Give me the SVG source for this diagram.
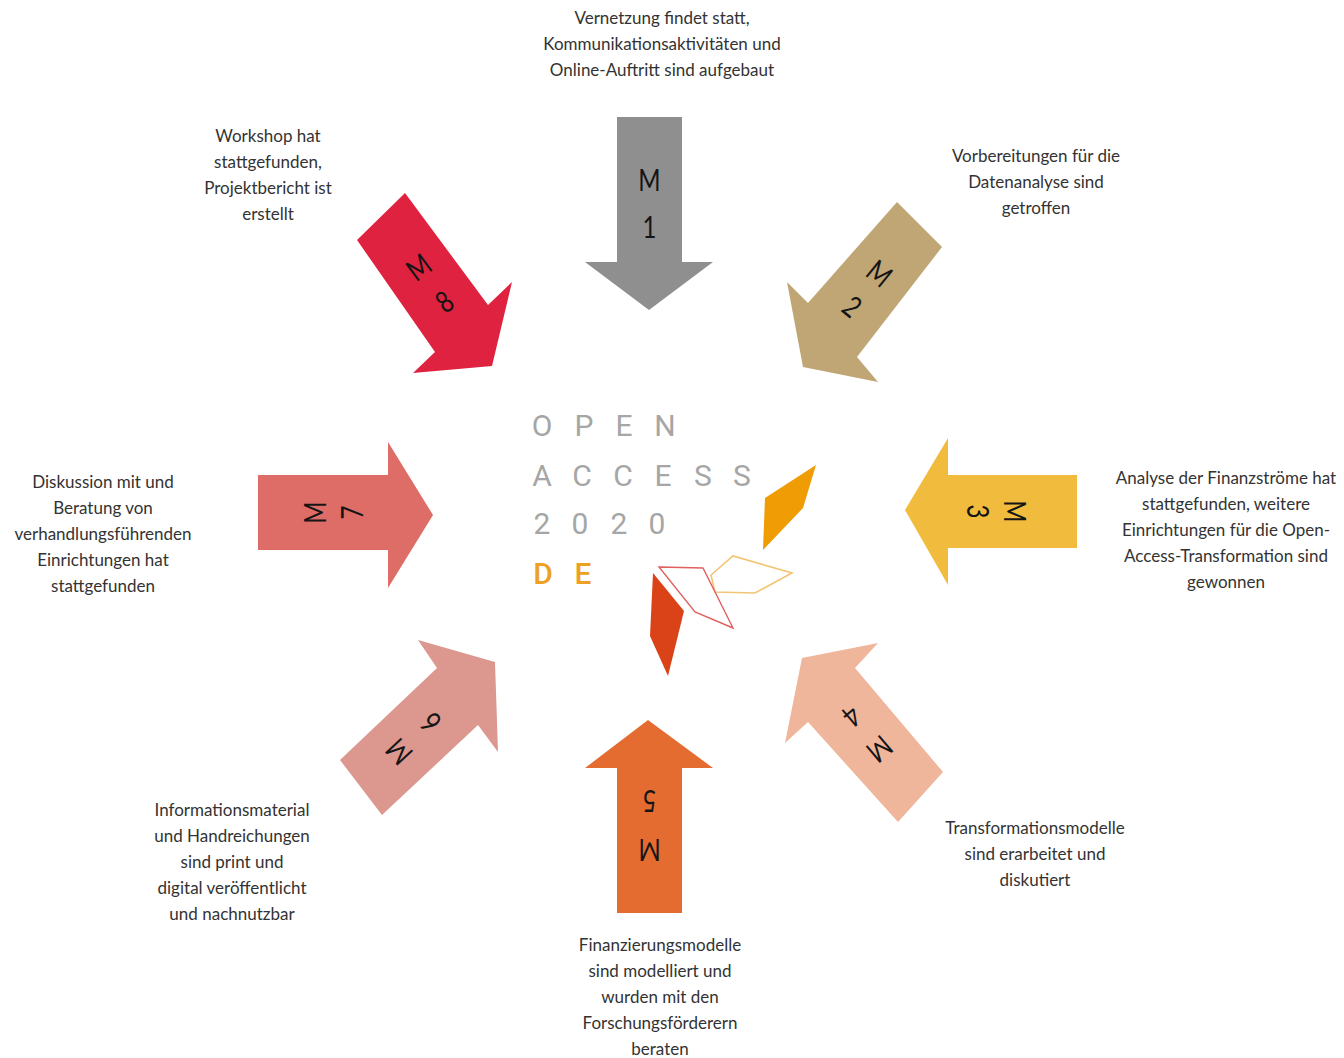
<svg xmlns="http://www.w3.org/2000/svg" width="1344" height="1058" viewBox="0 0 1344 1058">
<style>
.lbl{font-family:Lato,"Open Sans","Liberation Sans",sans-serif;font-size:17px;fill:#333333;text-anchor:middle}
.m{font-family:Lato,"Open Sans","Liberation Sans",sans-serif;font-size:30px;fill:#151515;text-anchor:middle}
.logo{font-family:Roboto,"Liberation Sans",sans-serif;font-size:30px;font-weight:400;fill:#a6a6a6;text-anchor:middle}
.de{fill:#eda124;font-weight:500}
</style>
<rect width="1344" height="1058" fill="#ffffff"/>

<g id="logo">
<text class="logo" x="542 584 624 665" y="436">OPEN</text>
<text class="logo" x="542 582 623 663 703 742" y="486">ACCESS</text>
<text class="logo" x="542 580 619 657" y="534">2020</text>
<text class="logo de" x="543 583" y="584">DE</text>
<polygon points="765,498 816,465 803,508 763,550" fill="#ef9c05"/>
<polygon points="711,575 733,556 792,573 755,593 715,592" fill="none" stroke="#f2c574" stroke-width="1.6"/>
<polygon points="659,567 703,568 733,628 695,612" fill="none" stroke="#e0605e" stroke-width="1.4"/>
<polygon points="653,573 684,611 668,676 650,636" fill="#da4218"/>
</g>

<g id="connectors">
<g id="M1">
<polygon points="617,117 682,117 682,262 713,262 649,310 585,262 617,262" fill="#8f8f8f"/>
<g transform="translate(649.5,117)"><g transform="scale(0.8,1)"><text class="m" x="0" y="74">M</text><text class="m" x="0" y="121">1</text></g></g>
</g>
<g id="M2">
<polygon points="897,202 942,247 857,357 878,382 803,367 787,282 808,303" fill="#c0a674"/>
<g transform="translate(919.5,224.5) rotate(39.3)"><g transform="scale(0.8,1)"><text class="m" x="0" y="74">M</text><text class="m" x="0" y="117">2</text></g></g>
</g>
<g id="M3">
<polygon points="1077,475 1077,548 948,548 948,585 905,510 948,438 948,475" fill="#f1bc3e"/>
<g transform="translate(1077,511.5) rotate(90)"><g transform="scale(0.8,1)"><text class="m" x="0" y="73">M</text><text class="m" x="0" y="110">3</text></g></g>
</g>
<g id="M4">
<polygon points="943,772 898,822 808,722 785,743 802,658 878,643 855,668" fill="#f0b69b"/>
<g transform="translate(920.5,797) rotate(139.5)"><g transform="scale(0.8,1)"><text class="m" x="0" y="74">M</text><text class="m" x="0" y="117">4</text></g></g>
</g>
<g id="M5">
<polygon points="617,913 682,913 682,768 713,768 648,720 585,768 617,768" fill="#e46c31"/>
<g transform="translate(649.5,913) rotate(180)"><g transform="scale(0.8,1)"><text class="m" x="0" y="74">M</text><text class="m" x="0" y="123">5</text></g></g>
</g>
<g id="M6">
<polygon points="340,760 382,815 478,725 498,752 495,662 418,640 437,668" fill="#dc978f"/>
<g transform="translate(361,787.5) rotate(-133.1)"><g transform="scale(0.8,1)"><text class="m" x="0" y="63">M</text><text class="m" x="0" y="106">6</text></g></g>
</g>
<g id="M7">
<polygon points="258,475 388,475 388,442 433,515 388,588 388,550 258,550" fill="#de6c67"/>
<g transform="translate(258,512.5) rotate(-90)"><g transform="scale(0.8,1)"><text class="m" x="0" y="68">M</text><text class="m" x="0" y="105">7</text></g></g>
</g>
<g id="M8">
<polygon points="357,240 405,193 488,305 512,282 492,366 413,373 435,352" fill="#df223f"/>
<g transform="translate(381,216.5) rotate(-36.6)"><g transform="scale(0.8,1)"><text class="m" x="0" y="74">M</text><text class="m" x="0" y="117">8</text></g></g>
</g>
</g>

<g id="label-M1">
<text class="lbl" x="662" y="24">Vernetzung findet statt,</text>
<text class="lbl" x="662" y="50">Kommunikationsaktivitäten und</text>
<text class="lbl" x="662" y="76">Online-Auftritt sind aufgebaut</text>
</g>
<g id="label-M2">
<text class="lbl" x="1036" y="162">Vorbereitungen für die</text>
<text class="lbl" x="1036" y="188">Datenanalyse sind</text>
<text class="lbl" x="1036" y="214">getroffen</text>
</g>
<g id="label-M3">
<text class="lbl" x="1226" y="484">Analyse der Finanzströme hat</text>
<text class="lbl" x="1226" y="510">stattgefunden, weitere</text>
<text class="lbl" x="1226" y="536">Einrichtungen für die Open-</text>
<text class="lbl" x="1226" y="562">Access-Transformation sind</text>
<text class="lbl" x="1226" y="588">gewonnen</text>
</g>
<g id="label-M4">
<text class="lbl" x="1035" y="834">Transformationsmodelle</text>
<text class="lbl" x="1035" y="860">sind erarbeitet und</text>
<text class="lbl" x="1035" y="886">diskutiert</text>
</g>
<g id="label-M5">
<text class="lbl" x="660" y="951">Finanzierungsmodelle</text>
<text class="lbl" x="660" y="977">sind modelliert und</text>
<text class="lbl" x="660" y="1003">wurden mit den</text>
<text class="lbl" x="660" y="1029">Forschungsförderern</text>
<text class="lbl" x="660" y="1055">beraten</text>
</g>
<g id="label-M6">
<text class="lbl" x="232" y="816">Informationsmaterial</text>
<text class="lbl" x="232" y="842">und Handreichungen</text>
<text class="lbl" x="232" y="868">sind print und</text>
<text class="lbl" x="232" y="894">digital veröffentlicht</text>
<text class="lbl" x="232" y="920">und nachnutzbar</text>
</g>
<g id="label-M7">
<text class="lbl" x="103" y="488">Diskussion mit und</text>
<text class="lbl" x="103" y="514">Beratung von</text>
<text class="lbl" x="103" y="540">verhandlungsführenden</text>
<text class="lbl" x="103" y="566">Einrichtungen hat</text>
<text class="lbl" x="103" y="592">stattgefunden</text>
</g>
<g id="label-M8">
<text class="lbl" x="268" y="142">Workshop hat</text>
<text class="lbl" x="268" y="168">stattgefunden,</text>
<text class="lbl" x="268" y="194">Projektbericht ist</text>
<text class="lbl" x="268" y="220">erstellt</text>
</g>
</svg>
